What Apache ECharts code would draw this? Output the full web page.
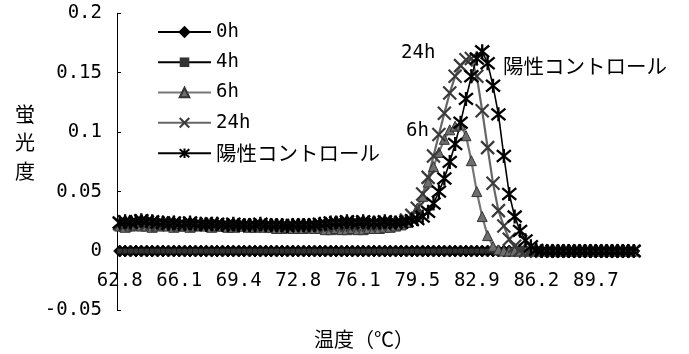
<!DOCTYPE html>
<html>
<head>
<meta charset="utf-8">
<script src="https://cdn.jsdelivr.net/npm/echarts@6/dist/echarts.min.js"></script>
<style>html,body{margin:0;padding:0;background:#fff}#c{width:689px;height:354px}</style>
</head>
<body>
<div id="c"></div>
<script>
const temps = ['62.8','63.1','63.4','63.7','64.0','64.3','64.6','64.9','65.2','65.5',
'65.8','66.1','66.4','66.7','67.0','67.3','67.6','67.9','68.2','68.5',
'68.8','69.1','69.4','69.7','70.0','70.3','70.6','70.9','71.2','71.6',
'71.9','72.2','72.5','72.8','73.1','73.4','73.7','74.0','74.3','74.6',
'74.9','75.2','75.5','75.8','76.1','76.4','76.7','77.0','77.3','77.6',
'77.9','78.3','78.6','78.9','79.2','79.5','79.8','80.1','80.4','80.7',
'81.0','81.3','81.7','82.0','82.3','82.6','82.9','83.2','83.5','83.8',
'84.1','84.4','84.7','85.0','85.3','85.6','85.9','86.2','86.5','86.8',
'87.2','87.5','87.8','88.1','88.4','88.8','89.1','89.4','89.7','90.0',
'90.3','90.6','90.9','91.2','91.5','91.8'];

const seriesNames = ['0h','4h','6h','24h','陽性コントロール'];

const h0 = [0,0,0,0,0,0,0,0,0,0,
0,0,0,0,0,0,0,0,0,0,
0,0,0,0,0,0,0,0,0,0,
0,0,0,0,0,0,0,0,0,0,
0,0,0,0,0,0,0,0,0,0,
0,0,0,0,0,0,0,0,0,0,
0,0,0,0,0,0,0,0,0,0,
0,0,0,0,0,0,0,0,0,0,
0,0,0,0,0,0,0,0,0,0,
0,0,0,0,0,0];

const h4 = [0,0,0,0,0,0,0,0,0,0,
0,0,0,0,0,0,0,0,0,0,
0,0,0,0,0,0,0,0,0,0,
0,0,0,0,0,0,0,0,0,0,
0,0,0,0,0,0,0,0,0,0,
0,0,0,0,0,0,0,0,0,0,
0,0,0,0,0,0,0,0,0,0,
0,0,0,0,0,0,0,0,0,0,
0,0,0,0,0,0,0,0,0,0,
0,0,0,0,0,0];

const h6 = [0.021,0.020,0.021,0.022,0.021,0.021,0.020,0.021,0.022,0.021,
0.020,0.021,0.021,0.020,0.021,0.022,0.021,0.020,0.021,0.021,
0.020,0.020,0.021,0.021,0.020,0.020,0.021,0.020,0.020,0.019,
0.019,0.020,0.019,0.019,0.019,0.020,0.019,0.019,0.018,0.018,
0.019,0.018,0.018,0.019,0.018,0.018,0.019,0.019,0.019,0.020,
0.020,0.021,0.022,0.024,0.029,0.036,0.046,0.058,0.071,0.083,
0.094,0.102,0.105,0.106,0.097,0.076,0.050,0.029,0.013,0.004,
0.001,0,0,0,0,0,0,0,0,0,
0,0,0,0,0,0,0,0,0,0,
0,0,0,0,0,0];

const h24 = [0.023,0.022,0.023,0.024,0.024,0.023,0.023,0.022,0.023,0.024,
0.023,0.022,0.022,0.023,0.022,0.022,0.023,0.023,0.022,0.022,
0.022,0.021,0.022,0.022,0.021,0.022,0.022,0.021,0.021,0.022,
0.021,0.021,0.021,0.022,0.021,0.021,0.022,0.022,0.021,0.022,
0.022,0.023,0.022,0.022,0.023,0.023,0.022,0.023,0.023,0.023,
0.023,0.024,0.024,0.026,0.030,0.036,0.048,0.062,0.080,0.098,
0.116,0.133,0.147,0.156,0.161,0.162,0.147,0.118,0.087,0.057,
0.034,0.021,0.010,0.004,0.001,0,0,0,0,0,
0,0,0,0,0,0,0,0,0,0,
0,0,0,0,0,0];

const positive = [0.024,0.025,0.024,0.025,0.026,0.025,0.025,0.024,0.024,0.023,
0.024,0.023,0.023,0.024,0.023,0.023,0.022,0.023,0.023,0.022,
0.022,0.023,0.022,0.022,0.022,0.022,0.023,0.022,0.022,0.022,
0.022,0.021,0.022,0.022,0.022,0.022,0.022,0.023,0.023,0.024,
0.024,0.024,0.025,0.024,0.024,0.025,0.024,0.024,0.024,0.025,
0.024,0.024,0.024,0.025,0.026,0.027,0.029,0.033,0.040,0.050,
0.061,0.075,0.090,0.108,0.128,0.147,0.162,0.168,0.158,0.139,
0.115,0.080,0.048,0.029,0.017,0.009,0.004,0.001,0,0,
0,0,0,0,0,0,0,0,0,0,
0,0,0,0,0,0];

const MONO = "'DejaVu Sans Mono', monospace";
const CJK = "'Noto Sans CJK JP', sans-serif";
const X_SYM = 'path://M0,0L10,10M10,0L0,10';
const STAR_SYM = 'path://M0,0L10,10M10,0L0,10M5,-1L5,11';

const chart = echarts.init(document.getElementById('c'), null, {renderer: 'canvas'});
chart.setOption({
  animation: false,
  backgroundColor: '#fff',
  grid: {left: 117, right: 52.6, top: 13.3, bottom: 43.5, containLabel: false},
  legend: {
    orient: 'vertical', left: 157, top: 22, padding: 0,
    itemWidth: 53, itemHeight: 12, itemGap: 10.25,
    data: seriesNames,
    textStyle: {fontFamily: MONO, fontSize: 19, color: '#000', lineHeight: 20,
      rich: {c: {fontFamily: CJK, fontSize: 20.5, color: '#000', lineHeight: 20}}},
    formatter: function (n) { return /^[0-9]/.test(n) ? n : '{c|' + n + '}'; }
  },
  xAxis: {
    type: 'category', data: temps, boundaryGap: true, position: 'bottom', offset: -59.5,
    axisLine: {onZero: false, lineStyle: {color: '#000', width: 1}},
    axisTick: {show: false},
    axisLabel: {interval: 10, margin: 21, fontFamily: MONO, fontSize: 19, color: '#000'},
    splitLine: {show: false}
  },
  yAxis: {
    type: 'value', min: -0.05, max: 0.2, interval: 0.05,
    axisLine: {show: true, lineStyle: {color: '#000', width: 1}},
    axisTick: {show: true, inside: true, length: 4, lineStyle: {color: '#000'}},
    axisLabel: {margin: 15, fontFamily: MONO, fontSize: 19, color: '#000'},
    splitLine: {show: false}
  },
  graphic: [
    {type: 'text', left: 15, top: 100, style: {text: '蛍\n光\n度', font: '20px ' + CJK, lineHeight: 28.5, fill: '#000'}},
    {type: 'text', left: 314, top: 329, style: {text: '温度（℃）', font: '20px ' + CJK, fill: '#000'}},
    {type: 'text', left: 401, top: 44, style: {text: '24h', font: '19px ' + MONO, fill: '#000'}},
    {type: 'text', left: 406, top: 122, style: {text: '6h', font: '19px ' + MONO, fill: '#000'}},
    {type: 'text', left: 503, top: 56, style: {text: '陽性コントロール', font: '20.5px ' + CJK, fill: '#000'}}
  ],
  series: [
    {name: '0h', type: 'line', data: h0, showAllSymbol: true, symbol: 'diamond', symbolSize: 12,
      itemStyle: {color: '#000', borderColor: '#000', borderWidth: 1}, lineStyle: {color: '#000', width: 2.5}},
    {name: '4h', type: 'line', data: h4, showAllSymbol: true, symbol: 'rect', symbolSize: 5,
      itemStyle: {color: '#333'}, lineStyle: {color: '#000', width: 1.2}},
    {name: '6h', type: 'line', data: h6, showAllSymbol: true, symbol: 'triangle', symbolSize: 10,
      itemStyle: {color: '#6e6e6e', borderColor: '#333', borderWidth: 1}, lineStyle: {color: '#777', width: 2.2}},
    {name: '24h', type: 'line', data: h24, showAllSymbol: true, symbol: X_SYM, symbolSize: 13,
      itemStyle: {color: '#3a3a3a', borderColor: '#3a3a3a', borderWidth: 2.2}, lineStyle: {color: '#666', width: 2.2}},
    {name: '陽性コントロール', type: 'line', data: positive, showAllSymbol: true, symbol: STAR_SYM, symbolSize: 14,
      itemStyle: {color: '#000', borderColor: '#000', borderWidth: 2.3}, lineStyle: {color: '#000', width: 1.6}}
  ]
});
</script>
</body>
</html>
